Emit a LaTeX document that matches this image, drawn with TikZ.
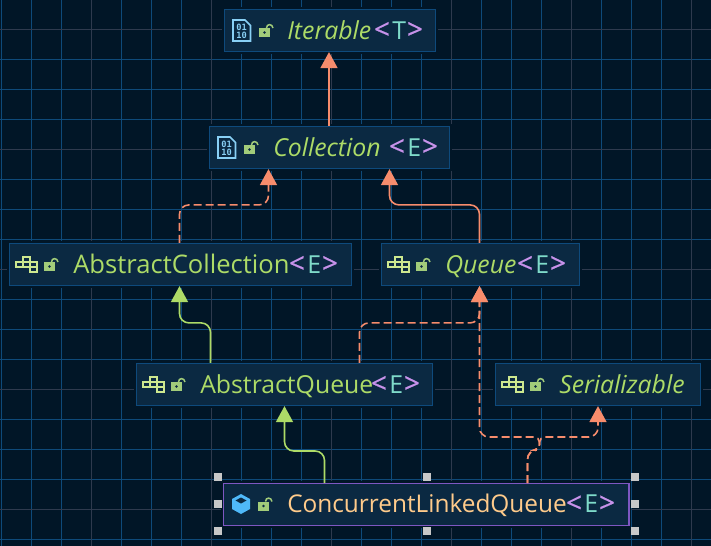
\documentclass[tikz,border=0pt]{standalone}
\usepackage{fontspec}
\setmainfont{Open Sans}
\newfontfamily\bitsfont{DejaVu Sans Mono}
\usetikzlibrary{arrows.meta,calc}

\definecolor{bgdark}{HTML}{011627}
\definecolor{gridblue}{HTML}{0E4A7A}
\definecolor{gridgrey}{HTML}{2E3A4E}
\definecolor{boxfill}{HTML}{0B2942}
\definecolor{boxline}{HTML}{0E4A7C}
\definecolor{selline}{HTML}{7E57C2}
\definecolor{salmon}{HTML}{F78C6C}
\definecolor{leaf}{HTML}{ADDB67}
\definecolor{apricot}{HTML}{FFCB8B}
\definecolor{mauve}{HTML}{C792EA}
\definecolor{aqua}{HTML}{7FDBCA}
\definecolor{lockgreen}{HTML}{A2CC7A}
\definecolor{iconblue}{HTML}{89D0F5}
\definecolor{cubeblue}{HTML}{4FB9F9}
\definecolor{classgreen}{HTML}{CDE88F}
\definecolor{handlegrey}{HTML}{C8C8C8}

\def\px{.75pt}
\newcommand{\gen}[1]{{\fontsize{21}{22}\selectfont\addfontfeature{FakeBold=0.6}\textcolor{mauve}{\makebox[12.75pt][l]{\hspace*{-1pt}<}}}\textcolor{aqua}{\makebox[12pt][l]{#1}}{\fontsize{21}{22}\selectfont\addfontfeature{FakeBold=0.6}\textcolor{mauve}{\hspace*{-1pt}>}}}

\tikzset{
  typebox/.style={rectangle,draw=boxline,fill=boxfill,line width=1.2*\px,inner sep=0pt,
    preaction={draw=bgdark,line width=5*\px}},
  selbox/.style={typebox,draw=selline,line width=\px},
  handle/.style={rectangle,fill=handlegrey,minimum size=7.5*\px,inner sep=0pt},
  nametext/.style={anchor=base west,inner sep=0pt,font=\fontsize{18.6}{20}\selectfont,text=leaf},
  gentext/.style={nametext},
  extends/.style={draw=salmon,line width=1.6*\px,rounded corners=7pt,
    -{Triangle[length=16*\px,width=17*\px,fill=salmon]}},
  implements/.style={extends,dash pattern=on 8*\px off 4*\px},
  greenext/.style={draw=leaf,line width=1.6*\px,rounded corners=7pt,
    -{Triangle[length=16*\px,width=17*\px,fill=leaf]}},
  lockicon/.pic={
    \fill[lockgreen] (0,-4) rectangle (11,5);
    \fill[boxfill] (5.5,.5) circle(1.3);
    \draw[lockgreen,line width=1.5*\px] (7.5,-4) .. controls (7.5,-8.5) and (13.5,-8.5) .. (14,-4);
  },
  classicon/.pic={
    \draw[classgreen,line width=2*\px]
      (0,-2.5) rectangle (21,2.5)
      (7,-2.5) -- (7,2.5) (14,-2.5) -- (14,2.5)
      (7,-2.5) -- (7,-7.5) -- (14,-7.5) -- (14,-2.5)
      (14,2.5) -- (14,7.5) -- (21,7.5) -- (21,2.5);
  },
  fileicon/.pic={
    \draw[iconblue,line width=1.7*\px] (0,-10.5) -- (12,-10.5) -- (17.5,-5) -- (17.5,10.5) -- (0,10.5) -- cycle;
    \node[inner sep=0pt,text=iconblue,font=\bitsfont\bfseries\fontsize{6.5}{7}\selectfont] (-hi) at (8.7,-3) {01};
    \node[inner sep=0pt,text=iconblue,font=\bitsfont\bfseries\fontsize{6.5}{7}\selectfont] (-lo) at (8.7,4.7) {10};
  },
  cubeicon/.pic={
    \fill[cubeblue] (9,-10) -- (18,-5) -- (18,5) -- (9,10) -- (0,5) -- (0,-5) -- cycle;
    \fill[boxfill] (9,-6.5) -- (14.5,-3.5) -- (9,-.5) -- (3.5,-3.5) -- cycle;
  },
}

\begin{document}
\begin{tikzpicture}[x=.75pt,y=-.75pt]

        \fill[bgdark] (0,0) rectangle (711,546);
        \useasboundingbox (0,0) rectangle (711,546);

        % grid
        \foreach \gx in {1.5,31.5,...,691.5} {
          \draw[gridblue,line width=\px] (\gx,0) -- (\gx,546);
        }
        \foreach \gy in {29.5,59.5,...,539.5} {
          \draw[gridblue,line width=\px] (0,\gy) -- (711,\gy);
        }
        \foreach \gx in {91.5,211.5,331.5,451.5,571.5,691.5} {
          \draw[gridgrey,line width=\px] (\gx,0) -- (\gx,546);
        }
        \foreach \gy in {29.5,149.5,269.5,389.5,509.5} {
          \draw[gridgrey,line width=\px] (0,\gy) -- (711,\gy);
        }

        % boxes
        \node[typebox,minimum width=211*\px,minimum height=42*\px] (iterable) at (330,30.5) {};
        \node[typebox,minimum width=240*\px,minimum height=42*\px] (collection) at (329.5,147.5) {};
        \node[typebox,minimum width=342*\px,minimum height=42*\px] (abscoll) at (180.5,264.5) {};
        \node[typebox,minimum width=198*\px,minimum height=42*\px] (queue) at (480.5,264.5) {};
        \node[typebox,minimum width=296*\px,minimum height=42*\px] (absqueue) at (284.5,384.5) {};
        \node[typebox,minimum width=205*\px,minimum height=42*\px] (serial) at (598,384.5) {};
        \node[selbox,minimum width=405*\px,minimum height=42*\px] (clq) at (426,504.5) {};
        \draw[selline,line width=2.2*\px] (clq.north east) -- (clq.south east);

        % selection handles
        \node[handle] (h1) at (218,477) {};
        \node[handle] (h2) at (427,477) {};
        \node[handle] (h3) at (635,477) {};
        \node[handle] (h4) at (218,504) {};
        \node[handle] (h5) at (635,504) {};
        \node[handle] (h6) at (218,531) {};
        \node[handle] (h7) at (427,531) {};
        \node[handle] (h8) at (635,531) {};

        % connectors
        \draw[extends] ($(collection.north)+(-.5,0)$) -- ($(iterable.south)+(-1,0)$);
        \draw[implements] (abscoll.north) ++(-1,0) -- ++(0,-38) -| ($(collection.south)+(-61,0)$);
        \draw[extends] (queue.north) ++(-1,0) -- ++(0,-38) -| ($(collection.south)+(60,0)$);
        \draw[greenext] ($(absqueue.north)+(-74,0)$) -- ++(0,-40) -| ($(abscoll.south)+(-1,0)$);
        \draw[implements] ($(absqueue.north)+(75,0)$) -- ++(0,-40) -| ($(queue.south)+(-1,0)$);
        \draw[greenext] ($(clq.north)+(-101.5,0)$) -- ++(0,-32) -| (absqueue.south);
        \draw[implements] ($(clq.north)+(101.5,0)$) -- ++(0,-33) [rounded corners=4pt] -- ++(12,0) -- ++(0,-13) [rounded corners=7pt] -| ($(queue.south)+(-1,0)$);
        \draw[implements] ($(clq.north)+(101.5,0)$) -- ++(0,-33) [rounded corners=4pt] -- ++(12,0) -- ++(0,-13) [rounded corners=7pt] -| (serial.south);

        % icons
        \pic at (233,30.5) {fileicon};
        \pic at (259,32) {lockicon};
        \pic at (218,147.5) {fileicon};
        \pic at (244,149) {lockicon};
        \pic at (16,264.5) {classicon};
        \pic at (44,266) {lockicon};
        \pic at (388,264.5) {classicon};
        \pic at (416,266) {lockicon};
        \pic at (143,384.5) {classicon};
        \pic at (171,386) {lockicon};
        \pic at (502,384.5) {classicon};
        \pic at (530,386) {lockicon};
        \pic at (232,504) {cubeicon};
        \pic at (258,505.5) {lockicon};

        % labels
        \node[nametext] (iterableName) at (287,39) {\itshape Iterable};
        \node[gentext] (iterableGen) at (375,39) {\gen{T}};
        \node[nametext] (collectionName) at (273,156) {\itshape Collection};
        \node[gentext] (collectionGen) at (390,156) {\gen{E}};
        \node[nametext,font=\fontsize{19.2}{20}\selectfont] (abscollName) at (73,273) {AbstractCollection};
        \node[gentext] (abscollGen) at (290,273) {\gen{E}};
        \node[nametext] (queueName) at (445,273) {\itshape Queue};
        \node[gentext] (queueGen) at (518,273) {\gen{E}};
        \node[nametext] (absqueueName) at (200,393) {AbstractQueue};
        \node[gentext] (absqueueGen) at (372,393) {\gen{E}};
        \node[nametext] (serialName) at (559,393) {\itshape Serializable};
        \node[nametext,text=apricot,font=\fontsize{18.3}{20}\selectfont] (clqName) at (287,512.5) {ConcurrentLinkedQueue};
        \node[gentext] (clqGen) at (567,512.5) {\gen{E}};

      \end{tikzpicture}
\end{document}
